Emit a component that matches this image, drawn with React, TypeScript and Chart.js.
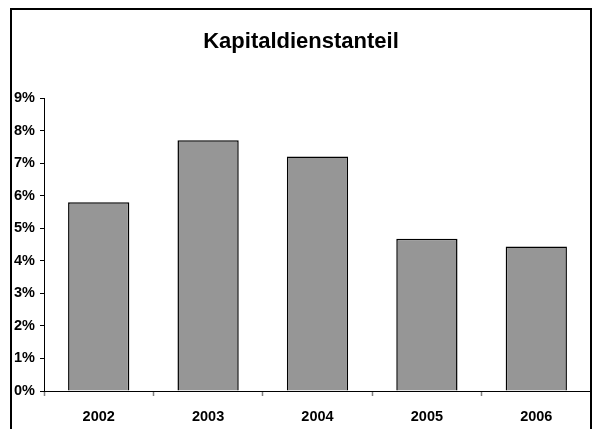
import React, { useEffect, useRef } from "react";
import { Chart, registerables } from "chart.js";

Chart.register(...registerables);

const chartTitle = "Kapitaldienstanteil";
const categories = ["2002", "2003", "2004", "2005", "2006"];
const values = [5.8, 7.7, 7.2, 4.68, 4.44];
const yTickLabels = ["0%", "1%", "2%", "3%", "4%", "5%", "6%", "7%", "8%", "9%"];

const FONT = '"Liberation Sans", Arial, Helvetica, sans-serif';

const framePlugin = {
  id: "frameAndTitle",
  afterDraw(chart: any) {
    const ctx = chart.ctx;
    ctx.save();
    ctx.strokeStyle = "#000";
    ctx.lineWidth = 2;
    ctx.strokeRect(11, 9, 580, 500);
    ctx.fillStyle = "#000";
    ctx.font = `bold 22px ${FONT}`;
    ctx.textAlign = "center";
    ctx.textBaseline = "alphabetic";
    ctx.fillText(chartTitle, 301, 48);
    ctx.restore();
  },
};

export default function App() {
  const ref = useRef<HTMLCanvasElement | null>(null);
  useEffect(() => {
    if (!ref.current) return;
    const chart = new Chart(ref.current, {
      type: "bar",
      data: {
        labels: categories,
        datasets: [
          {
            data: values,
            backgroundColor: "#969696",
            borderColor: "#000",
            borderWidth: 1.5,
            categoryPercentage: 1,
            barPercentage: 0.56,
          },
        ],
      },
      options: {
        responsive: false,
        animation: false,
        devicePixelRatio: 1,
        layout: { padding: { left: 10, right: 1, top: 98, bottom: 0 } },
        plugins: { legend: { display: false }, tooltip: { enabled: false }, title: { display: false } },
        scales: {
          x: {
            offset: true,
            grid: { offset: true, drawOnChartArea: false, tickLength: 5, tickColor: "#808080", tickWidth: 1.5 },
            border: { color: "#000", width: 1 },
            afterFit: (s: any) => {
              s.height = 38;
            },
            ticks: { color: "#000", font: { family: FONT, size: 14.5, weight: "bold" }, padding: 12, maxRotation: 0 },
          },
          y: {
            min: 0,
            max: 9,
            grid: { drawOnChartArea: false, tickLength: 4, tickColor: "#000" },
            border: { color: "#000", width: 1 },
            afterFit: (s: any) => {
              s.width = 34;
            },
            ticks: {
              stepSize: 1,
              color: "#000",
              padding: 5,
              font: { family: FONT, size: 14.5, weight: "bold" },
              callback: (_v: any, i: number) => yTickLabels[i],
            },
          },
        },
      },
      plugins: [framePlugin],
    });
    return () => chart.destroy();
  }, []);
  return (
    <div style={{ position: "absolute", left: 0, top: 0, width: 592, height: 429, background: "#fff" }}>
      <canvas ref={ref} width={592} height={429} />
    </div>
  );
}
